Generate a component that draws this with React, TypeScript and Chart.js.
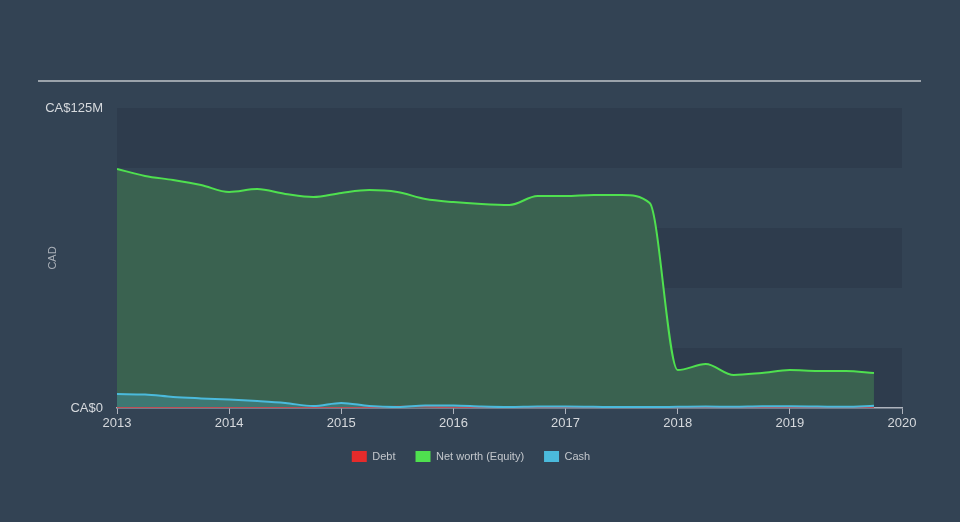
import React, { useEffect, useRef } from "react";
import { Chart, registerables } from "chart.js";

Chart.register(...registerables);

const quarters = [
  2013.0, 2013.25, 2013.5, 2013.75, 2014.0, 2014.25, 2014.5, 2014.75,
  2015.0, 2015.25, 2015.5, 2015.75, 2016.0, 2016.25, 2016.5, 2016.75,
  2017.0, 2017.25, 2017.5, 2017.75, 2018.0, 2018.25, 2018.5, 2018.75,
  2019.0, 2019.25, 2019.5, 2019.75,
];

const netWorth = [
  99.6, 96.7, 95.0, 92.9, 90.0, 91.2, 89.2, 87.9,
  89.6, 90.8, 90.0, 87.1, 85.8, 85.0, 84.6, 88.3,
  88.3, 88.75, 88.75, 85.4, 15.8, 18.3, 13.75, 14.6,
  15.8, 15.4, 15.4, 14.6,
];

const cash = [
  5.8, 5.6, 4.6, 4.0, 3.5, 2.9, 2.1, 0.8,
  2.1, 0.8, 0.4, 1.0, 1.0, 0.6, 0.4, 0.6,
  0.6, 0.5, 0.4, 0.4, 0.5, 0.6, 0.5, 0.7,
  0.7, 0.6, 0.5, 0.9,
];

const debt = [
  0.1, 0.1, 0.1, 0.1, 0.1, 0.1, 0.1, 0.1,
  0.1, 0.2, 0.6, 0.5, 0.2, 0.1, 0.1, 0.1,
  0.1, 0.1, 0.1, 0.1, 0.1, 0.1, 0.1, 0.1,
  0.1, 0.1, 0.1, 0.1,
];

const yearTicks = [2013, 2014, 2015, 2016, 2017, 2018, 2019, 2020];
const yMax = 125;
const yStep = 25;
const seriesNames = ["Debt", "Net worth (Equity)", "Cash"];
const seriesColors = ["#e52b2b", "#4fe04f", "#4bbadc"];

const PAGE_BG = "#334354";
const BAND_DARK = "#2e3c4d";

const bandsPlugin = {
  id: "bands",
  beforeDraw(chart: any) {
    const { ctx, chartArea, scales } = chart;
    const y = scales.y;
    ctx.save();
    for (let v = 0; v < yMax; v += yStep) {
      const idx = v / yStep;
      if (idx % 2 === 0) {
        const top = y.getPixelForValue(v + yStep);
        const bottom = y.getPixelForValue(v);
        ctx.fillStyle = BAND_DARK;
        ctx.fillRect(chartArea.left, top, chartArea.right - chartArea.left, bottom - top);
      }
    }
    ctx.restore();
  },
  afterDraw(chart: any) {
    const { ctx } = chart;
    ctx.save();
    ctx.strokeStyle = "#bfc3c8";
    ctx.lineWidth = 1.5;
    ctx.beginPath();
    ctx.moveTo(38, 81);
    ctx.lineTo(921, 81);
    ctx.stroke();
    ctx.restore();
  },
};

export default function App() {
  const ref = useRef<HTMLCanvasElement>(null);

  useEffect(() => {
    if (!ref.current) return;
    const mk = (arr: number[]) => quarters.map((x, i) => ({ x, y: arr[i] }));
    const chart = new Chart(ref.current, {
      type: "line",
      data: {
        datasets: [
          {
            label: seriesNames[0],
            data: mk(debt),
            borderColor: seriesColors[0],
            backgroundColor: "rgba(229,43,43,0.2)",
            borderWidth: 1.5,
            pointRadius: 0,
            fill: false,
            cubicInterpolationMode: "monotone",
            order: 2,
          },
          {
            label: seriesNames[1],
            data: mk(netWorth),
            borderColor: seriesColors[1],
            backgroundColor: "#3a6250",
            borderWidth: 2,
            pointRadius: 0,
            fill: "origin",
            cubicInterpolationMode: "monotone",
            order: 3,
          },
          {
            label: seriesNames[2],
            data: mk(cash),
            borderColor: seriesColors[2],
            backgroundColor: "rgba(75,186,220,0.25)",
            borderWidth: 2,
            pointRadius: 0,
            fill: "origin",
            cubicInterpolationMode: "monotone",
            order: 1,
          },
        ],
      },
      options: {
        responsive: false,
        animation: false,
        layout: { padding: { top: 108, left: 40, right: 58, bottom: 50 } },
        plugins: {
          tooltip: { enabled: false },
          legend: {
            position: "bottom",
            labels: {
              boxWidth: 15,
              boxHeight: 11,
              padding: 20,
              color: "#c3c7cc",
              font: { family: "'Liberation Sans', Arial, sans-serif", size: 11 },
              sort: (a: any, b: any) => a.datasetIndex - b.datasetIndex,
              generateLabels: (chart: any) => {
                const items = Chart.defaults.plugins.legend.labels.generateLabels(chart);
                return items.map((it: any) => ({
                  ...it,
                  fillStyle: seriesColors[it.datasetIndex],
                  strokeStyle: seriesColors[it.datasetIndex],
                  lineWidth: 0,
                }));
              },
            },
          },
        },
        scales: {
          x: {
            type: "linear",
            min: 2013,
            max: 2020,
            afterBuildTicks: (axis: any) => {
              axis.ticks = yearTicks.map((v) => ({ value: v }));
            },
            afterFit: (axis: any) => {
              axis.height = 23;
            },
            ticks: {
              color: "#d6d9dd",
              padding: 2,
              maxRotation: 0,
              font: { family: "'Liberation Sans', Arial, sans-serif", size: 13 },
              callback: (v: any) => String(v),
            },
            grid: {
              display: true,
              drawOnChartArea: false,
              drawTicks: true,
              tickLength: 6,
              color: "#aeb3bd",
            },
            border: { display: true, color: "#aeb3bd", width: 1.5 },
          },
          y: {
            min: 0,
            max: yMax,
            afterFit: (axis: any) => {
              axis.width = 77;
            },
            ticks: {
              stepSize: yStep,
              padding: 14,
              color: "#d6d9dd",
              font: { family: "'Liberation Sans', Arial, sans-serif", size: 13 },
              callback: (v: any) => (v === 0 ? "CA$0" : v === yMax ? "CA$125M" : ""),
            },
            grid: { display: false, drawTicks: false },
            border: { display: false },
            title: {
              display: true,
              text: "CAD",
              color: "#aab0b8",
              padding: { top: 6, bottom: 0 },
              font: { family: "'Liberation Sans', Arial, sans-serif", size: 11 },
            },
          },
        },
      },
      plugins: [bandsPlugin],
    } as any);
    return () => chart.destroy();
  }, []);

  return (
    <div
      style={{
        position: "fixed",
        left: 0,
        top: 0,
        width: 960,
        height: 522,
        background: PAGE_BG,
      }}
    >
      <canvas ref={ref} width={960} height={522} style={{ display: "block" }} />
    </div>
  );
}
